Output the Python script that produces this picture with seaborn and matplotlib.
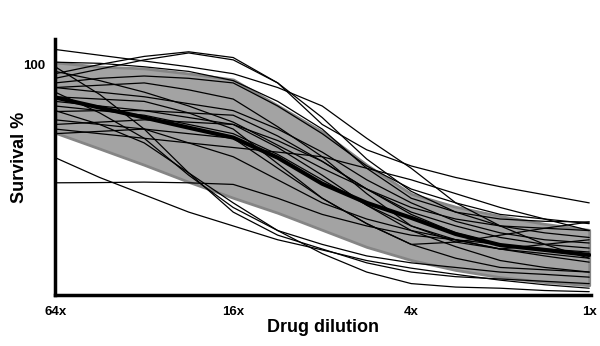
import matplotlib
matplotlib.use("Agg")
import matplotlib.pyplot as plt
import seaborn as sns
import pandas as pd

# x positions on a log4 dilution scale (64x -> 1x), read at quarter-tick steps
dilution_pos = [0, 0.25, 0.5, 0.75, 1, 1.25, 1.5, 1.75, 2, 2.25, 2.5, 2.75, 3]
tick_pos = [0, 1, 2, 3]
tick_labels = ['64x', '16x', '4x', '1x']

# mean curve and shaded band
mean_curve = [85.7, 81.3, 77, 72.6, 68.3, 59.6, 48.3, 40, 33.5, 26.5, 21.7, 19.6, 17.4]
band_upper = [100.9, 99.1, 98.3, 96.1, 93.5, 82.2, 70.9, 56.5, 43.9, 38.3, 34.3, 30.9, 28.3]
band_lower = [70.4, 63.5, 56.5, 49.1, 42.2, 35.7, 28.3, 20.9, 15.2, 10.9, 7.8, 5.7, 4.3]

# individual sample curves
curve_a = [106.5, 104, 101.5, 99, 96, 90, 82, 68, 55, 40, 30, 22, 16]
curve_b = [96, 100, 103.5, 105.5, 103, 92, 74, 63, 56, 51, 47, 43.5, 40]
curve_c = [94, 98, 102, 105, 102, 92, 77, 59, 45, 36, 30, 27, 25]
curve_d = [101, 100.5, 99, 97, 93, 84, 72, 55, 42, 36, 33, 32, 31.7]
curve_e = [97, 93, 88, 82, 75, 65, 55, 46, 38, 33, 30, 29, 28]
curve_f = [92, 94, 95, 94, 92, 82, 70, 56, 46, 40, 35, 33, 31]
curve_g = [90, 88, 86, 83, 80, 72, 62, 50, 40, 32, 27, 24, 22.6]
curve_h = [88, 79, 68, 52, 38, 28, 22, 17, 14, 12, 10, 9, 7.8]
curve_i = [99, 87, 72, 53, 36, 26, 20, 14, 10, 8, 7, 6, 5]
curve_j = [84, 82, 80, 77, 74, 67, 58, 46, 35, 27, 22, 20, 18.7]
curve_k = [82, 80, 78, 74, 70, 61, 50, 39, 30, 24, 20, 18, 16]
curve_l = [79.6, 80, 80, 79, 78, 69, 58, 46, 36, 30, 25, 22, 20.4]
curve_m = [76, 74, 72, 66, 60, 50, 40, 33, 28, 24, 20, 17, 14.3]
curve_n = [74, 75, 76, 75, 74, 64, 52, 39, 28, 21, 15, 12, 10]
curve_o = [72, 70, 68, 66, 64, 62, 60, 55, 50, 44, 38, 33, 28]
curve_p = [59.6, 51, 43.5, 36, 30, 24, 19.6, 15, 11.7, 9, 6.5, 4.5, 3]
curve_q = [48.7, 48.8, 49, 48.7, 48, 42, 35, 30, 26, 24, 22, 19.5, 17.4]
curve_r = [86, 85, 84, 79, 72, 57, 42, 31, 22, 16, 12, 11, 10]
curve_s = [80, 74, 66, 53, 40, 28, 18, 10, 5, 3.5, 3, 2, 1.5]
curve_t = [70, 71, 72, 70, 68, 55, 42, 31, 22, 23, 26, 29, 31.7]
curve_u = [90, 91, 92, 89, 85, 73, 60, 44, 30, 23, 20, 22, 24]

curves = [curve_a, curve_b, curve_c, curve_d, curve_e, curve_f, curve_g,
          curve_h, curve_i, curve_j, curve_k, curve_l, curve_m, curve_n,
          curve_o, curve_p, curve_q, curve_r, curve_s, curve_t, curve_u]

rows = []
for idx, vals in enumerate(curves):
    for x, v in zip(dilution_pos, vals):
        rows.append({'curve': idx, 'dilution': x, 'survival': v})
df = pd.DataFrame(rows)
mean_df = pd.DataFrame({'dilution': dilution_pos, 'survival': mean_curve})

sns.set_style('white')
plt.rcParams['font.family'] = ['Liberation Sans', 'DejaVu Sans']
plt.rcParams['text.color'] = 'black'
plt.rcParams['axes.labelcolor'] = 'black'
plt.rcParams['xtick.color'] = 'black'
plt.rcParams['ytick.color'] = 'black'

fig = plt.figure(figsize=(6, 3.46), dpi=100)
ax = fig.add_axes([0.092, 0.147, 0.893, 0.74])

ax.fill_between(dilution_pos, band_lower, band_upper, color='#a3a3a3',
                edgecolor='#858585', linewidth=2, zorder=1)
sns.lineplot(data=df, x='dilution', y='survival', units='curve',
             estimator=None, color='black', linewidth=0.9, ax=ax, zorder=2)
sns.lineplot(data=mean_df, x='dilution', y='survival', color='black',
             linewidth=3, ax=ax, zorder=3)

ax.set_xlim(0, 3.01)
ax.set_ylim(0, 111)
ax.set_xticks(tick_pos)
ax.set_xticklabels(tick_labels, fontweight='bold', fontsize=9.5)
ax.set_yticks([100])
ax.set_yticklabels(['100'], fontweight='bold', fontsize=9.5)
ax.tick_params(axis='both', direction='inout', length=5, width=2, pad=5)
ax.set_xlabel('Drug dilution', fontweight='bold', fontsize=13, labelpad=1)
ax.set_ylabel('Survival %', fontweight='bold', fontsize=13)
ax.yaxis.set_label_coords(-0.05, 0.54)

for side in ['top', 'right']:
    ax.spines[side].set_visible(False)
for side in ['left', 'bottom']:
    ax.spines[side].set_linewidth(2.5)
    ax.spines[side].set_color('black')

fig.savefig('out.png', dpi=100)
